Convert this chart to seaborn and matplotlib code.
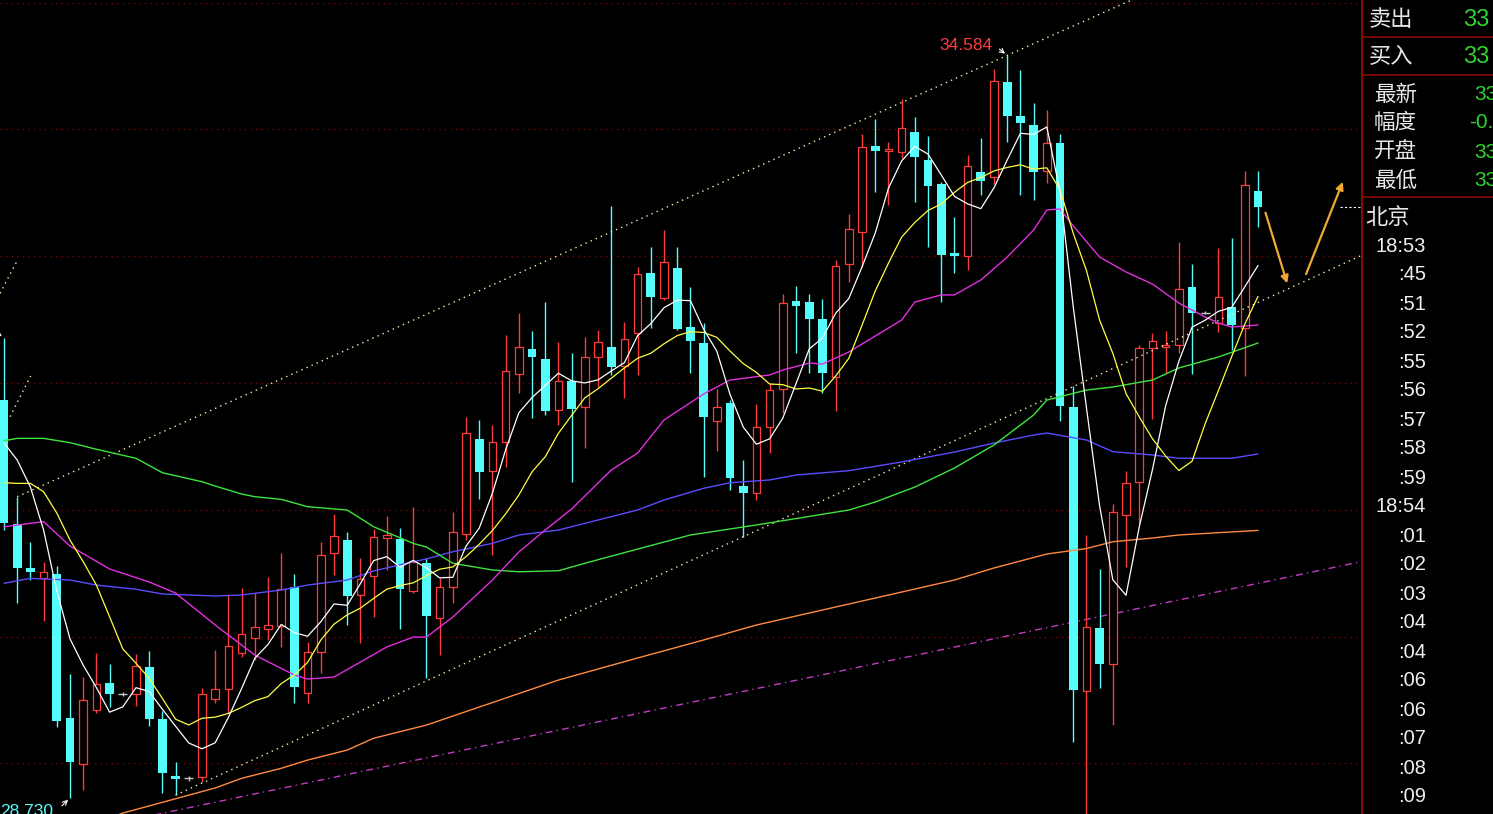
import numpy as np
import pandas as pd
import matplotlib
matplotlib.use("Agg")
import matplotlib.pyplot as plt
import seaborn as sns

# ---- candle data (oldest -> newest) ----
opens = [31.866, 30.889, 30.544, 30.465, 30.492, 29.356, 28.996, 29.422, 29.632, 29.545,
         29.545, 29.763, 29.348, 28.901, 28.883, 28.896, 29.506, 29.585, 29.874, 29.987,
         30.058, 30.087, 30.394, 29.553, 29.881, 30.662, 30.762, 30.326, 30.481, 30.781,
         30.768, 30.363, 30.583, 30.145, 30.394, 30.807, 31.557, 31.307, 31.533, 32.069,
         32.266, 32.187, 31.788, 32.019, 31.809, 32.208, 32.282, 32.135, 32.392, 32.866,
         32.673, 32.905, 32.440, 32.314, 31.698, 31.840, 31.188, 31.135, 31.656, 31.951,
         32.647, 32.637, 32.505, 32.045, 32.937, 33.194, 33.870, 33.833, 33.820, 33.980,
         33.759, 33.570, 33.028, 33.002, 33.665, 33.623, 34.372, 34.106, 34.035, 33.675,
         33.891, 31.808, 29.572, 30.066, 29.786, 30.957, 31.216, 32.275, 32.286, 32.304,
         32.760, 32.555, 32.473, 32.598, 32.438, 33.515]
highs = [32.355, 31.104, 30.747, 30.591, 30.560, 29.703, 29.684, 29.869, 29.782, 29.564,
         29.863, 29.887, 29.416, 29.014, 28.901, 29.593, 29.895, 30.337, 30.381, 30.342,
         30.473, 30.662, 30.494, 29.960, 30.744, 30.967, 30.828, 30.618, 30.847, 30.952,
         30.855, 31.025, 30.618, 30.460, 30.986, 31.730, 31.709, 31.669, 32.379, 32.550,
         32.413, 32.642, 32.326, 32.235, 32.361, 32.419, 33.396, 32.484, 32.918, 33.075,
         33.207, 33.075, 32.755, 32.476, 31.951, 31.866, 31.393, 31.835, 31.998, 32.700,
         32.766, 32.702, 32.663, 32.971, 33.331, 33.962, 34.083, 33.904, 34.238, 34.101,
         33.948, 33.588, 33.312, 33.799, 33.935, 34.475, 34.584, 34.469, 34.211, 34.154,
         33.964, 31.977, 30.802, 30.534, 31.043, 31.307, 32.300, 32.393, 32.408, 33.113,
         32.939, 32.568, 33.065, 33.148, 33.672, 33.676]
lows = [30.841, 30.266, 30.447, 30.126, 29.285, 28.730, 28.791, 29.396, 29.448, 29.532,
        29.453, 29.295, 28.769, 28.751, 28.862, 28.856, 29.475, 29.396, 29.842, 29.816,
        29.974, 29.921, 29.479, 29.479, 29.711, 30.486, 30.092, 29.948, 30.157, 30.526,
        30.058, 30.342, 29.672, 29.855, 30.263, 30.762, 31.083, 30.644, 31.336, 31.919,
        31.722, 31.748, 31.669, 31.222, 31.486, 31.971, 32.064, 31.880, 32.064, 32.432,
        32.655, 32.419, 32.077, 31.262, 31.467, 31.157, 30.788, 31.078, 31.446, 31.762,
        32.235, 32.082, 31.919, 31.782, 32.797, 32.918, 33.509, 33.404, 33.773, 33.426,
        33.075, 32.642, 32.866, 32.892, 33.483, 33.570, 33.904, 33.483, 33.444, 33.575,
        31.701, 29.169, 28.560, 29.599, 29.305, 30.551, 30.893, 31.718, 32.078, 32.240,
        32.072, 32.545, 32.400, 32.264, 32.056, 33.233]
closes = [30.899, 30.542, 30.512, 30.512, 29.337, 29.014, 29.501, 29.627, 29.545, 29.545,
          29.771, 29.348, 28.927, 28.878, 28.883, 29.545, 29.585, 29.926, 30.019, 30.074,
          30.090, 30.376, 29.601, 29.877, 30.644, 30.794, 30.321, 30.457, 30.784, 30.802,
          30.376, 30.591, 30.163, 30.389, 30.823, 31.604, 31.301, 31.538, 32.098, 32.287,
          32.203, 31.782, 32.019, 31.798, 32.203, 32.326, 32.129, 32.350, 32.860, 32.681,
          32.952, 32.424, 32.334, 31.735, 31.814, 31.249, 31.135, 31.656, 31.948, 32.629,
          32.610, 32.503, 32.082, 32.927, 33.213, 33.859, 33.833, 33.846, 34.009, 33.785,
          33.557, 33.010, 33.002, 33.712, 33.596, 34.382, 34.106, 34.053, 33.667, 33.891,
          31.819, 29.582, 30.073, 29.786, 30.983, 31.209, 32.275, 32.329, 32.304, 32.742,
          32.552, 32.555, 32.677, 32.455, 33.560, 33.391]

# MA5 / MA10 values before enough bars are on screen
ma5_head = [31.528, 31.393, 31.180, 30.841]
ma10_head = [31.214, 31.209, 31.209, 31.143, 30.975, 30.762, 30.591, 30.407, 30.157]

# longer averages, read at bar indices
mag_idx = [0, 3, 5, 8, 11, 13, 16, 19, 22, 23, 25, 27, 29, 31, 32, 34, 37, 39, 41, 43, 46, 48,
           50, 53, 55, 58, 59, 61, 62, 64, 68, 69, 71, 72, 74, 76, 78, 79, 80, 81, 83, 85, 87,
           89, 91, 92, 93, 95]
mag_val = [30.867, 30.907, 30.715, 30.534, 30.431, 30.344, 30.092, 29.855, 29.698, 29.666,
           29.682, 29.800, 29.919, 29.997, 29.997, 30.155, 30.447, 30.668, 30.841, 31.007,
           31.314, 31.448, 31.709, 31.914, 32.024, 32.064, 32.103, 32.158, 32.150, 32.245,
           32.497, 32.639, 32.695, 32.695, 32.813, 32.994, 33.207, 33.365, 33.373, 33.239,
           32.994, 32.876, 32.781, 32.631, 32.521, 32.474, 32.442, 32.458]
grn_idx = [0, 1, 3, 5, 7, 10, 12, 15, 16, 18, 19, 21, 23, 26, 28, 31, 32, 34, 37, 39, 42, 44,
           48, 52, 57, 64, 66, 69, 72, 75, 78, 79, 82, 84, 87, 89, 92, 95]
grn_val = [31.545, 31.564, 31.564, 31.530, 31.478, 31.407, 31.293, 31.222, 31.188, 31.125,
           31.104, 31.083, 31.025, 30.999, 30.867, 30.736, 30.707, 30.579, 30.526, 30.512,
           30.520, 30.579, 30.691, 30.802, 30.881, 30.999, 31.062, 31.180, 31.330, 31.512,
           31.748, 31.866, 31.945, 31.969, 32.024, 32.119, 32.206, 32.316]
blu_idx = [0, 2, 5, 7, 10, 12, 16, 18, 21, 23, 26, 28, 31, 32, 34, 37, 39, 42, 44, 48, 50, 53,
           55, 58, 60, 64, 68, 72, 75, 78, 79, 82, 84, 87, 89, 93, 95]
blu_val = [30.421, 30.460, 30.447, 30.407, 30.374, 30.337, 30.321, 30.329, 30.368, 30.407,
           30.447, 30.518, 30.591, 30.613, 30.670, 30.736, 30.802, 30.841, 30.894, 30.999,
           31.078, 31.170, 31.214, 31.236, 31.275, 31.309, 31.378, 31.456, 31.527, 31.590,
           31.606, 31.551, 31.459, 31.433, 31.407, 31.407, 31.441]
org_idx = [8, 9, 16, 18, 21, 23, 26, 28, 32, 42, 48, 53, 57, 63, 68, 72, 75, 79, 82, 84, 87, 89, 95]
org_val = [28.570, 28.609, 28.807, 28.883, 28.962, 29.027, 29.106, 29.199, 29.303, 29.658,
           29.832, 29.974, 30.092, 30.234, 30.352, 30.447, 30.542, 30.652, 30.695, 30.749,
           30.778, 30.802, 30.838]

# hand-drawn lines on the chart (bar index, price)
steep_a = ([-0.30, 0.96], [32.708, 32.957])
steep_b = ([0.46, 2.02], [31.735, 32.056])
magenta_ray = ([15.6, 102.7], [28.686, 30.589])
arrow_down = ((95.5, 33.365), (97.27, 32.765))
arrow_up = ((98.56, 32.839), (101.5, 33.607))

# right-hand quote panel
quote_rows = [("卖出", 20, "33"), ("买入", 57, "33")]
info_rows = [("最新", 95, "33"), ("幅度", 123, "-0."), ("开盘", 152, "33"), ("最低", 181, "33")]
tick_times = ["18:53", ":45", ":51", ":52", ":55", ":56", ":57", ":58", ":59", "18:54",
              ":01", ":02", ":03", ":04", ":04", ":06", ":06", ":07", ":08", ":09"]

RED = "#ff3c3c"
CYAN = "#54fcfc"
GRID = "#7a0000"
DOTS = "#f2f2a8"

sns.set_theme(style="dark", rc={"axes.facecolor": "black", "figure.facecolor": "black",
                                "axes.grid": False, "savefig.facecolor": "black"})
plt.rcParams["font.family"] = ["Liberation Sans", "Noto Sans CJK SC", "DejaVu Sans"]

o = np.array(opens); h = np.array(highs); l = np.array(lows); c = np.array(closes)
idx = np.arange(len(c))
df = pd.DataFrame({"idx": idx, "close": c})
ma5 = df["close"].rolling(5).mean().to_numpy()
ma5[:len(ma5_head)] = ma5_head
ma10 = df["close"].rolling(10).mean().to_numpy()
ma10[:len(ma10_head)] = ma10_head

fig = plt.figure(figsize=(14.93, 8.14), dpi=100)
ax = fig.add_axes([0, 0, 1361 / 1493, 1])
x0, x1 = -0.303, 102.80
y0, y1 = 28.6017, 35.021
ax.set_xlim(x0, x1)
ax.set_ylim(y0, y1)
ax.set_xticks([]); ax.set_yticks([])
for s in ax.spines.values():
    s.set_visible(False)

# dotted price grid at whole numbers
ax.hlines(np.arange(29, 36), x0, x1, colors=GRID, linestyles=(0, (1, 3)), lw=1.0, zorder=1)

# candles
up = c > o
dn = c < o
fl = c == o
ax.vlines(idx[dn], l[dn], h[dn], color=CYAN, lw=1.0, zorder=3)
ax.bar(idx[dn], (o - c)[dn], bottom=c[dn], width=0.66, color=CYAN, lw=0, zorder=3)
ax.vlines(idx[up], c[up], h[up], color=RED, lw=1.0, zorder=3)
ax.vlines(idx[up], l[up], o[up], color=RED, lw=1.0, zorder=3)
ax.bar(idx[up], (c - o)[up], bottom=o[up], width=0.58, facecolor="black",
       edgecolor=RED, lw=0.9, zorder=3)
ax.vlines(idx[fl], l[fl], h[fl], color="#c8c8c8", lw=1.0, zorder=3)
ax.hlines(c[fl], idx[fl] - 0.33, idx[fl] + 0.33, color="#c8c8c8", lw=1.0, zorder=3)

# channel lines through the bar extremes
ua, ub = 1, 76
k_up = (h[ub] - h[ua]) / (ub - ua)
xs = np.array([ua, x1])
ax.plot(xs, h[ua] + k_up * (xs - ua), color=DOTS, lw=1.0, ls=(0, (1, 3)), zorder=4)
la, lb = 13, 56
k_lo = (l[lb] - l[la]) / (lb - la)
xs = np.array([la, x1])
ax.plot(xs, l[la] + k_lo * (xs - la), color=DOTS, lw=1.0, ls=(0, (1, 3)), zorder=4)
for seg in (steep_a, steep_b):
    ax.plot(seg[0], seg[1], color=DOTS, lw=1.0, ls=(0, (1, 3)), zorder=4, clip_on=True)
mx = np.array([10, x1])
km = (magenta_ray[1][1] - magenta_ray[1][0]) / (magenta_ray[0][1] - magenta_ray[0][0])
ax.plot(mx, magenta_ray[1][0] + km * (mx - magenta_ray[0][0]), color="#c43cc4", lw=1.0,
        ls=(0, (5, 3, 1, 3)), zorder=2)

# moving averages
sns.lineplot(x=org_idx, y=org_val, ax=ax, color="#ff8a40", lw=1.0, zorder=5)
sns.lineplot(x=blu_idx, y=blu_val, ax=ax, color="#5a4cff", lw=1.0, zorder=5)
sns.lineplot(x=grn_idx, y=grn_val, ax=ax, color="#3ee43e", lw=1.0, zorder=5)
sns.lineplot(x=mag_idx, y=mag_val, ax=ax, color="#e030e0", lw=1.0, zorder=5)
sns.lineplot(x=idx, y=ma10, ax=ax, color="#ffff40", lw=0.9, zorder=6)
sns.lineplot(x=idx, y=ma5, ax=ax, color="white", lw=0.9, zorder=7)

# orange forecast arrows
for tail, head in (arrow_down, arrow_up):
    ax.annotate("", xy=head, xytext=tail,
                arrowprops=dict(arrowstyle="-|>", color="#f0aa34", lw=1.6, mutation_scale=11),
                zorder=8)

# last price tick near the axis
ax.hlines(c[-1], 101.2, x1, colors="white", linestyles=(0, (2, 2)), lw=0.8, zorder=6)

# high / low markers
ihi = int(np.argmax(h))
ilo = 5
arrow_kw = dict(arrowstyle="->", color="white", lw=0.8, mutation_scale=8)
ax.annotate("", xy=(ihi, h[ihi]), xytext=(-10, 8), textcoords="offset pixels",
            arrowprops=arrow_kw, zorder=9)
ax.annotate(f"{h[ihi]:.3f}", xy=(ihi, h[ihi]), xytext=(-15, 10), textcoords="offset pixels",
            ha="right", va="center", color=RED, fontsize=12.5, zorder=9)
ax.annotate("", xy=(ilo, l[ilo]), xytext=(-10, -10), textcoords="offset pixels",
            arrowprops=arrow_kw, zorder=9)
ax.annotate(f"{l[ilo]:.3f}", xy=(ilo, l[ilo]), xytext=(-17, -14), textcoords="offset pixels",
            ha="right", va="center", color=CYAN, fontsize=12.5, zorder=9, annotation_clip=False)
ax.annotate("", xy=(0, h[0]), xytext=(-9, 7), textcoords="offset pixels",
            arrowprops=arrow_kw, zorder=9)

# ---- right panel ----
px = fig.add_axes([1361 / 1493, 0, 132 / 1493, 1])
px.set_xlim(1361, 1493)
px.set_ylim(814, 0)
px.axis("off")
PANEL_LINE = "#8c0a0a"
px.plot([1362, 1362], [0, 814], color=PANEL_LINE, lw=1.4, clip_on=False)
for yy in (37, 75, 197):
    px.plot([1362, 1493], [yy, yy], color=PANEL_LINE, lw=1.2)

cjk = ["Noto Sans CJK SC", "DejaVu Sans"]
for lab, yy, val in quote_rows:
    px.text(1369, yy, lab, color="#e8e8e8", fontsize=16, family=cjk, va="center")
    px.text(1463, yy, val, color="#2fd42f", fontsize=17, va="center")
for lab, yy, val in info_rows:
    px.text(1374, yy, lab, color="#e8e8e8", fontsize=15.5, family=cjk, va="center")
    px.text(1469 if val.startswith("-") else 1474, yy, val, color="#2fd42f",
            fontsize=15, va="center")
px.text(1365, 218, "北京", color="#e8e8e8", fontsize=16, family=cjk, va="center")
for k, t in enumerate(tick_times):
    px.text(1426, 246 + k * 29.0, t, color="#f0f0f0", fontsize=14.5, ha="right", va="center")

fig.savefig("out.png", dpi=100, facecolor="black")
